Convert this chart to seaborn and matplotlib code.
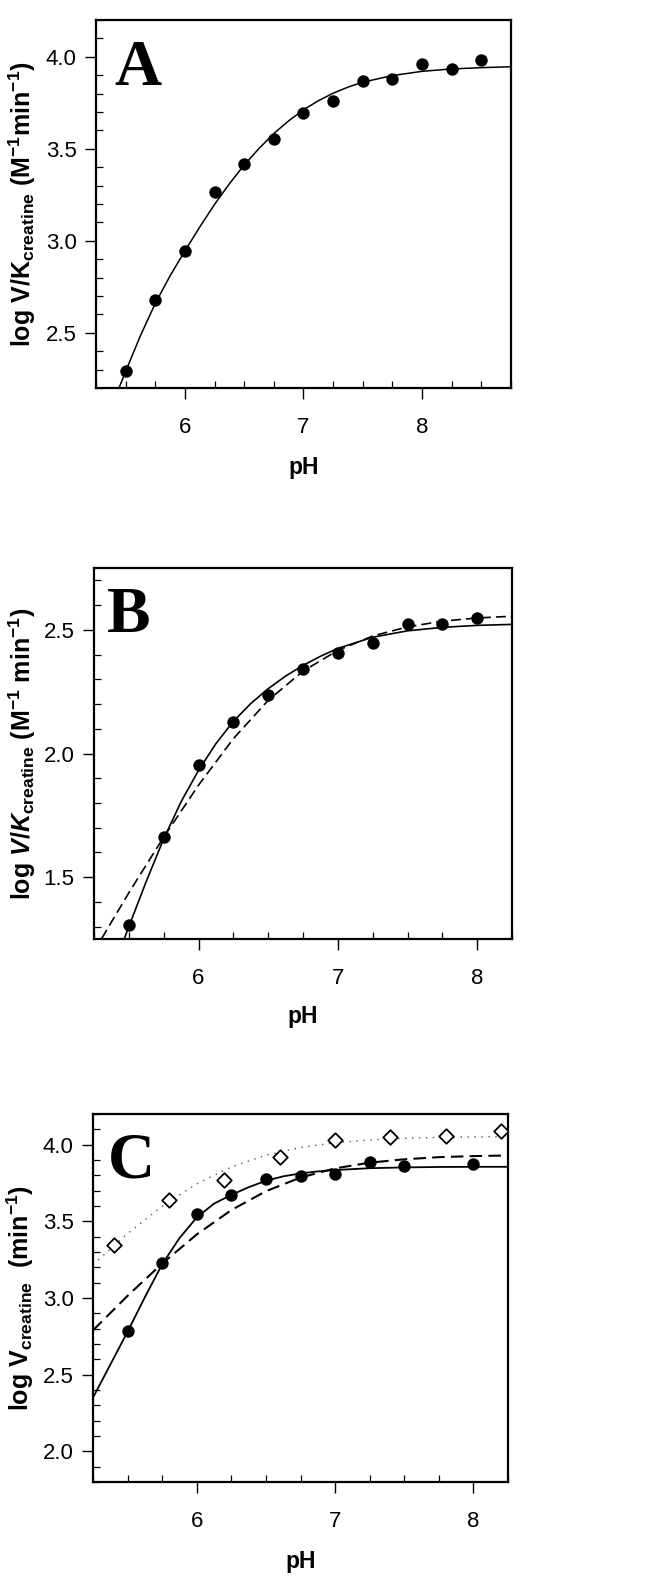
import matplotlib
matplotlib.use('Agg')
import matplotlib.pyplot as plt
from matplotlib import font_manager
from matplotlib.ticker import MultipleLocator
import seaborn as sns

# ── Panel A : log V/K creatine ──
ph_A = [5.5, 5.75, 6.0, 6.25, 6.5, 6.75, 7.0, 7.25, 7.5, 7.75, 8.0, 8.25, 8.5]
vk_A = [2.29, 2.68, 2.947, 3.263, 3.418, 3.553, 3.697, 3.759, 3.870, 3.880, 3.962, 3.931, 3.985]
fit_ph_A = [5.375, 5.5, 5.625, 5.75, 5.875, 6.0, 6.125, 6.25, 6.375, 6.5, 6.625, 6.75,
            6.875, 7.0, 7.125, 7.25, 7.375, 7.5, 7.75, 8.0, 8.25, 8.5, 8.75]
fit_A = [2.09, 2.29, 2.485, 2.66, 2.81, 2.945, 3.075, 3.198, 3.31, 3.412, 3.502, 3.583,
         3.652, 3.712, 3.761, 3.802, 3.835, 3.862, 3.898, 3.921, 3.934, 3.941, 3.946]

# ── Panel B : log V/K creatine (second set) ──
ph_B = [5.5, 5.75, 6.0, 6.25, 6.5, 6.75, 7.0, 7.25, 7.5, 7.75, 8.0]
vk_B = [1.306, 1.662, 1.955, 2.128, 2.237, 2.341, 2.406, 2.446, 2.524, 2.524, 2.546]
fit_ph_B = [5.375, 5.5, 5.625, 5.75, 5.875, 6.0, 6.125, 6.25, 6.375, 6.5, 6.625, 6.75,
            6.875, 7.0, 7.25, 7.5, 7.75, 8.0, 8.25]
fit_B = [1.115, 1.30, 1.483, 1.655, 1.805, 1.932, 2.04, 2.13, 2.202, 2.262, 2.313, 2.356,
         2.393, 2.425, 2.47, 2.496, 2.51, 2.518, 2.522]
dash_ph_B = [5.25, 5.5, 5.75, 6.0, 6.25, 6.5, 6.75, 7.0, 7.25, 7.5, 7.75, 8.0, 8.25]
dash_B = [1.20, 1.437, 1.662, 1.872, 2.06, 2.215, 2.333, 2.417, 2.475, 2.512, 2.535, 2.548, 2.555]

# ── Panel C : log V creatine ──
ph_C = [5.5, 5.75, 6.0, 6.25, 6.5, 6.75, 7.0, 7.25, 7.5, 8.0]
v_C = [2.783, 3.23, 3.55, 3.669, 3.773, 3.795, 3.81, 3.886, 3.858, 3.876]
ph_C_open = [5.4, 5.8, 6.2, 6.6, 7.0, 7.4, 7.8, 8.2]
v_C_open = [3.343, 3.636, 3.767, 3.917, 4.028, 4.052, 4.054, 4.087]
fit_ph_C = [5.25, 5.375, 5.5, 5.625, 5.75, 5.875, 6.0, 6.125, 6.25, 6.375, 6.5, 6.625,
            6.75, 6.875, 7.0, 7.25, 7.5, 7.75, 8.0, 8.25]
fit_C = [2.35, 2.565, 2.78, 3.005, 3.22, 3.39, 3.525, 3.615, 3.672, 3.722, 3.764, 3.793,
         3.812, 3.825, 3.834, 3.846, 3.851, 3.854, 3.855, 3.855]
curve_ph_C = [5.25, 5.5, 5.75, 6.0, 6.25, 6.5, 6.75, 7.0, 7.25, 7.5, 7.75, 8.0, 8.25]
dash_C = [2.789, 3.014, 3.224, 3.414, 3.573, 3.696, 3.785, 3.845, 3.882, 3.904, 3.918, 3.925, 3.929]
dot_C = [3.217, 3.42, 3.598, 3.744, 3.854, 3.931, 3.981, 4.012, 4.03, 4.041, 4.047, 4.05, 4.052]

# ── Style ──
sns.set_style("ticks")
names = {f.name for f in font_manager.fontManager.ttflist}
tick_font = 'Liberation Sans Narrow' if 'Liberation Sans Narrow' in names else 'Liberation Sans'
plt.rcParams.update({
    'font.family': [tick_font, 'DejaVu Sans'],
    'mathtext.fontset': 'custom',
    'mathtext.rm': 'Liberation Sans:bold',
    'mathtext.it': 'Liberation Sans:bold:italic',
    'mathtext.bf': 'Liberation Sans:bold',
    'axes.linewidth': 1.6,
    'axes.edgecolor': 'black',
    'axes.labelcolor': 'black',
    'text.color': 'black',
})

XLABEL = dict(family='Liberation Sans', weight='bold', size=16.5)
YLABEL = dict(family='Liberation Sans', weight='bold', size=18)

fig = plt.figure(figsize=(6.63, 15.87), dpi=100)
ax_A = fig.add_axes([0.1448, 0.7555, 0.6259, 0.2319])
ax_B = fig.add_axes([0.1418, 0.4083, 0.6305, 0.2338])
ax_C = fig.add_axes([0.1403, 0.0662, 0.6259, 0.2319])


def style_axes(ax, xlim, ylim, ylabel, letter, lx, ly, ylab_x, xlab_y):
    ax.set_xlim(*xlim)
    ax.set_ylim(*ylim)
    ax.xaxis.set_major_locator(MultipleLocator(1))
    ax.xaxis.set_minor_locator(MultipleLocator(0.25))
    ax.yaxis.set_major_locator(MultipleLocator(0.5))
    ax.yaxis.set_minor_locator(MultipleLocator(0.1))
    ax.yaxis.set_major_formatter(matplotlib.ticker.FormatStrFormatter('%.1f'))
    ax.tick_params(which='major', direction='out', length=8, width=1.0,
                   labelsize=16, colors='black')
    ax.tick_params(axis='x', which='major', pad=13)
    ax.tick_params(axis='y', which='major', pad=6)
    ax.tick_params(which='minor', direction='in', length=5, width=0.9, colors='black')
    for s in ax.spines.values():
        s.set_visible(True)
        s.set_linewidth(1.6)
    ax.set_xlabel('pH', **XLABEL)
    ax.set_ylabel(ylabel, **YLABEL)
    ax.xaxis.set_label_coords(0.5, xlab_y)
    ax.yaxis.set_label_coords(ylab_x, 0.5)
    ax.text(lx, ly, letter, transform=ax.transAxes, family='Liberation Serif',
            weight='bold', size=47, ha='left', va='baseline', color='black')


# Panel A
sns.lineplot(x=fit_ph_A, y=fit_A, ax=ax_A, color='black', lw=1.1)
sns.scatterplot(x=ph_A, y=vk_A, ax=ax_A, color='black', s=80, linewidth=0, zorder=5)
style_axes(ax_A, (5.25, 8.75), (2.2, 4.2),
           r"log V/K$_{\mathrm{creatine}}$ (M$^{\mathrm{-1}}$min$^{\mathrm{-1}}$)",
           'A', 0.045, 0.823, -0.14, -0.185)

# Panel B
sns.lineplot(x=fit_ph_B, y=fit_B, ax=ax_B, color='black', lw=1.2)
sns.lineplot(x=dash_ph_B, y=dash_B, ax=ax_B, color='black', lw=1.2, linestyle=(0, (6, 3)))
sns.scatterplot(x=ph_B, y=vk_B, ax=ax_B, color='black', s=80, linewidth=0, zorder=5)
style_axes(ax_B, (5.25, 8.25), (1.25, 2.75),
           r"log $\mathit{V/K}_{\mathrm{creatine}}$ (M$^{\mathrm{-1}}$ min$^{\mathrm{-1}}$)",
           'B', 0.03, 0.8275, -0.135, -0.178)

# Panel C
sns.lineplot(x=fit_ph_C, y=fit_C, ax=ax_C, color='black', lw=1.3)
sns.lineplot(x=curve_ph_C, y=dash_C, ax=ax_C, color='black', lw=1.5, linestyle=(0, (6, 3)))
sns.lineplot(x=curve_ph_C, y=dot_C, ax=ax_C, color='#555555', lw=1.0, linestyle=(0, (1, 4)))
sns.scatterplot(x=ph_C, y=v_C, ax=ax_C, color='black', s=80, linewidth=0, zorder=5)
sns.scatterplot(x=ph_C_open, y=v_C_open, ax=ax_C, marker='D', s=55, facecolor='white',
                edgecolor='black', linewidth=1.3, zorder=5)
style_axes(ax_C, (5.25, 8.25), (1.8, 4.2),
           r"log V$_{\mathrm{creatine}}$  (min$^{\mathrm{-1}}$)",
           'C', 0.035, 0.826, -0.137, -0.185)

fig.savefig('out.png', dpi=100)
